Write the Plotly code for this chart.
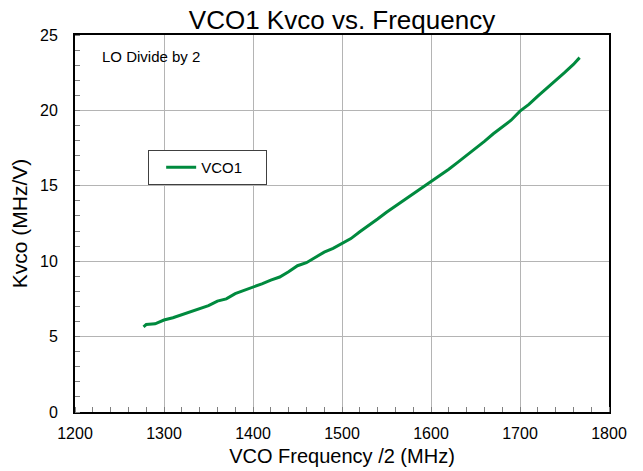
import plotly.graph_objects as go

freq = [1277, 1280, 1290, 1300, 1310, 1320, 1330, 1340, 1350, 1360, 1370, 1380, 1390,
        1400, 1410, 1420, 1430, 1440, 1450, 1460, 1470, 1480, 1490, 1500, 1510, 1520,
        1530, 1540, 1550, 1560, 1570, 1580, 1590, 1600, 1610, 1620, 1630, 1640, 1650,
        1660, 1670, 1680, 1690, 1700, 1710, 1720, 1730, 1740, 1750, 1760, 1767]
kvco = [5.65, 5.8, 5.85, 6.1, 6.25, 6.45, 6.6, 6.85, 7.05, 7.35, 7.5, 7.85, 8.05,
        8.3, 8.5, 8.75, 8.95, 9.3, 9.7, 9.9, 10.25, 10.6, 10.85, 11.2, 11.5, 11.95,
        12.35, 12.8, 13.25, 13.65, 14.1, 14.5, 14.9, 15.3, 15.65, 16.1, 16.55, 17.0, 17.45,
        17.95, 18.45, 18.9, 19.35, 19.95, 20.4, 20.95, 21.45, 21.95, 22.5, 23.05, 23.5]

x_ticks = [1200, 1300, 1400, 1500, 1600, 1700, 1800]
y_ticks = [0, 5, 10, 15, 20, 25]

FONT = "Liberation Sans, Arial, sans-serif"
GREEN = "#008a3e"

# page body has an 8px default margin; the figure is sized to fit inside it
fig = go.Figure()
fig.add_trace(go.Scatter(x=freq, y=kvco, mode="lines", name="VCO1",
                         line=dict(color=GREEN, width=3)))

fig.update_layout(
    width=635, height=463,
    margin=dict(l=67, r=34, t=27, b=59, autoexpand=False),
    paper_bgcolor="white", plot_bgcolor="white",
    font=dict(family=FONT, color="black", size=16),
    title=dict(text="VCO1 Kvco vs. Frequency", x=0.526, xanchor="center",
               y=0.975, yanchor="middle", font=dict(size=26, family=FONT)),
    showlegend=True,
    legend=dict(x=0.137, y=0.695, xanchor="left", yanchor="top",
                orientation="h", entrywidth=60, entrywidthmode="pixels",
                indentation=12,
                bordercolor="#404040", borderwidth=1, bgcolor="white",
                font=dict(size=15, family=FONT), itemwidth=30,
                tracegroupgap=0),
    annotations=[dict(text="LO Divide by 2", x=0.047, y=0.942, xref="paper", yref="paper",
                      xanchor="left", yanchor="middle", showarrow=False,
                      font=dict(size=15, family=FONT))],
)

fig.update_xaxes(range=[1200, 1800], tickvals=x_ticks, ticktext=[str(v) for v in x_ticks],
                 showgrid=True, gridcolor="#b4b4b4", gridwidth=1, automargin=False,
                 showline=True, linecolor="black", linewidth=2, mirror=True,
                 ticks="", zeroline=False, ticklabelstandoff=6,
                 minor=dict(dtick=20, ticks="inside", ticklen=5, tickcolor="#808080", showgrid=False),
                 title=dict(text="VCO Frequency /2 (MHz)", font=dict(size=20, family=FONT), standoff=8),
                 tickfont=dict(size=16, family=FONT))
fig.update_yaxes(range=[0, 25], tickvals=y_ticks, ticktext=[str(v) for v in y_ticks],
                 showgrid=True, gridcolor="#b4b4b4", gridwidth=1, automargin=False,
                 showline=True, linecolor="black", linewidth=2, mirror=True,
                 ticks="", zeroline=False, ticklabelstandoff=12,
                 minor=dict(dtick=1, ticks="inside", ticklen=5, tickcolor="#808080", showgrid=False),
                 title=dict(text="Kvco (MHz/V)", font=dict(size=21, family=FONT), standoff=8),
                 tickfont=dict(size=16, family=FONT))

fig.write_html("out.html")
